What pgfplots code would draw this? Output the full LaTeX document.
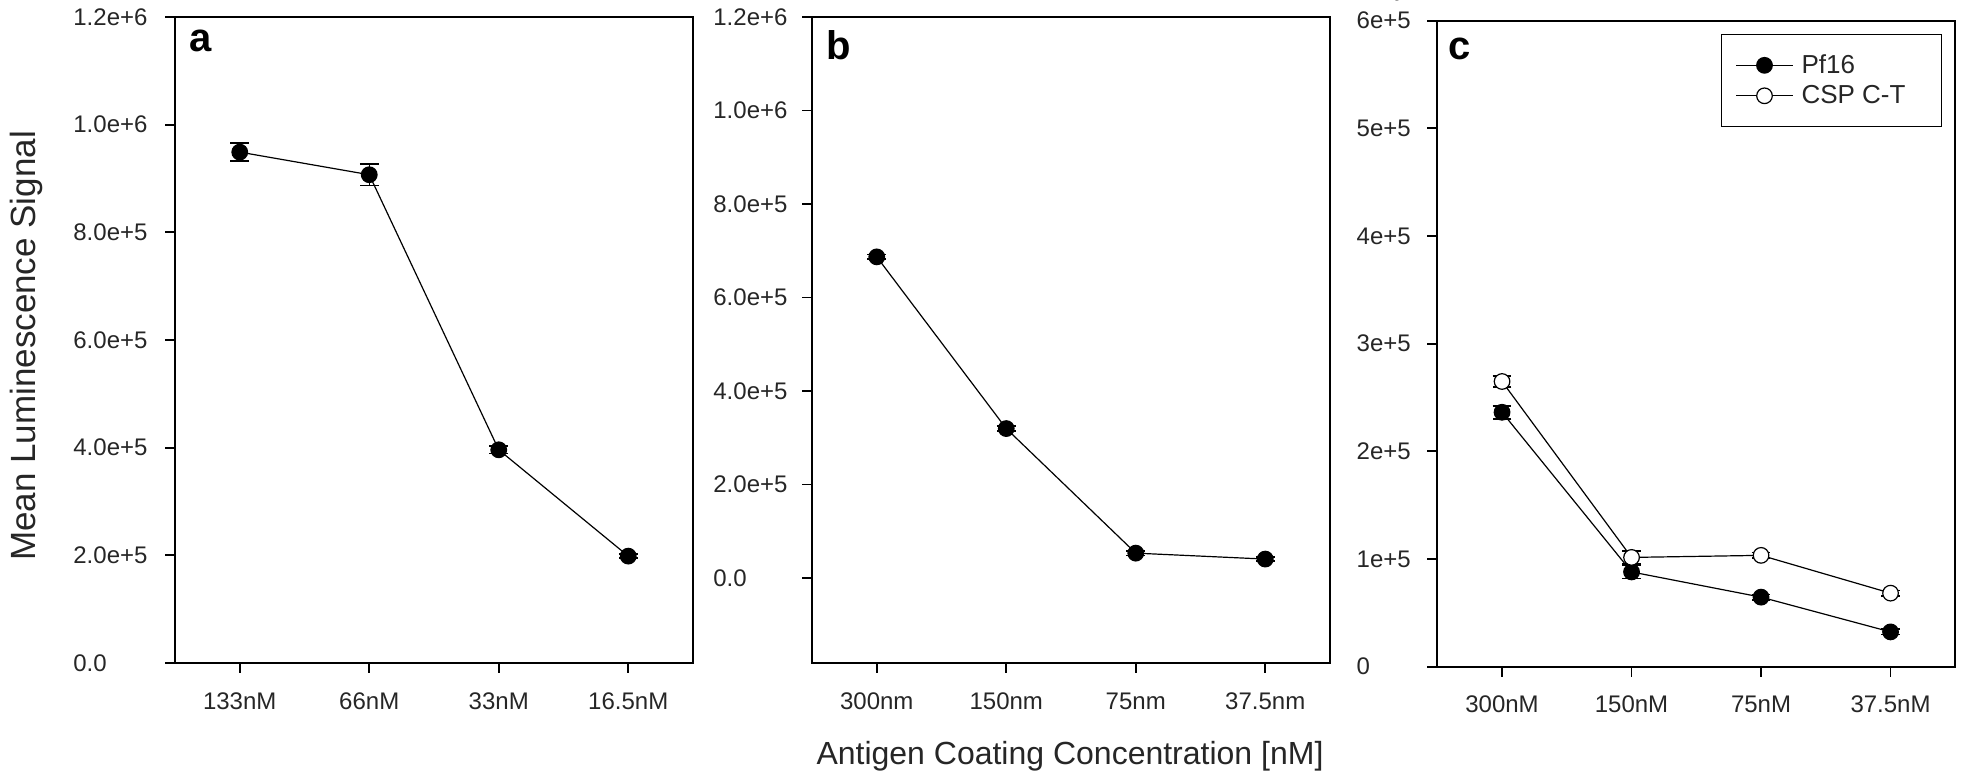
\documentclass[border=0pt]{standalone}
\usepackage{fontspec}
\setmainfont{Liberation Sans}
\usepackage{pgfplots}
\pgfplotsset{compat=1.18}

\pgfplotstableread{
x y e
0 949000 16700
1 907000 20000
2 396000 7000
3 198500 4000
}\dataA
\pgfplotstableread{
x y e
0 686800 5000
1 319500 5000
2 53000 5000
3 40300 4000
}\dataB
\pgfplotstableread{
x y e
0 236300 6000
1 88000 6000
2 64600 2500
3 32300 2500
}\dataPf
\pgfplotstableread{
x y e
0 264900 5000
1 101500 6000
2 103400 2500
3 68300 2500
}\dataCSP

\pgfplotsset{
  panel/.style={
    scale only axis, width=259pt, height=323pt,
    xmin=-0.5, xmax=3.5, xtick={0,1,2,3},
    tick align=outside, xtick pos=bottom, ytick pos=left,
    major tick length=5pt,
    axis line style={line width=0.9pt},
    every tick/.style={line width=0.9pt, black},
    tick label style={font=\fontsize{12}{14}\selectfont, text=black!85},
    xticklabel style={anchor=center, inner sep=0pt, yshift=-14pt},
    yticklabel style={anchor=west, inner sep=0pt},
    error bars/error bar style={line width=0.7pt, black},
    error bars/error mark options={rotate=90, mark size=4.7pt, line width=0.8pt, black},
  },
  ser/.style={black, line width=0.6pt, mark=*, mark size=3.9pt,
    mark options={line width=0.6pt, fill=black},
    error bars/y dir=both, error bars/y explicit},
}

\begin{document}
\begin{tikzpicture}
\useasboundingbox (0,0) rectangle (980.5pt,390pt);

% panel a
\begin{axis}[panel, at={(87.5pt,58.5pt)}, anchor=south west,
  ymin=0, ymax=1200000,
  ytick={0,200000,400000,600000,800000,1000000,1200000},
  yticklabels={0.0,2.0e+5,4.0e+5,6.0e+5,8.0e+5,1.0e+6,1.2e+6},
  yticklabel style={xshift=-46pt},
  xticklabels={133nM,66nM,33nM,16.5nM}]
\addplot[ser] table[x=x, y=y, y error=e] {\dataA};
\node[anchor=north west, inner sep=0pt, font=\fontsize{20}{22}\bfseries\selectfont]
  at ([xshift=7pt,yshift=-6.5pt]rel axis cs:0,1) {a};
\end{axis}

% panel b
\begin{axis}[panel, at={(406pt,58.5pt)}, anchor=south west,
  ymin=-182000, ymax=1200000,
  ytick={0,200000,400000,600000,800000,1000000,1200000},
  yticklabels={0.0,2.0e+5,4.0e+5,6.0e+5,8.0e+5,1.0e+6,1.2e+6},
  yticklabel style={xshift=-44.5pt},
  xticklabels={300nm,150nm,75nm,37.5nm}]
\addplot[ser] table[x=x, y=y, y error=e] {\dataB};
\node[anchor=north west, inner sep=0pt, font=\fontsize{20}{22}\bfseries\selectfont]
  at ([xshift=7pt,yshift=-6.5pt]rel axis cs:0,1) {b};
\end{axis}

% panel c
\begin{axis}[panel, at={(718.65pt,56.65pt)}, anchor=south west,
  ymin=0, ymax=600000,
  ytick={0,100000,200000,300000,400000,500000,600000},
  yticklabels={0,1e+5,2e+5,3e+5,4e+5,5e+5,6e+5},
  yticklabel style={xshift=-35.5pt},
  xticklabels={300nM,150nM,75nM,37.5nM},
  legend style={at={(0.975,0.98)}, anchor=north east, draw=black, line width=0.8pt,
    font=\fontsize{13}{15}\selectfont, inner xsep=7pt, inner ysep=8pt,
    row sep=0.5pt, nodes={inner sep=2pt}, text=black!85},
  legend cell align=left,
  legend image code/.code={\draw[mark repeat=2,mark phase=2,#1] plot coordinates {(0cm,0cm) (0.5cm,0cm) (1cm,0cm)};}]
\addplot[ser] table[x=x, y=y, y error=e] {\dataPf};
\addlegendentry{\hspace*{2pt}Pf16}
\addplot[ser, mark options={fill=white, line width=0.6pt}] table[x=x, y=y, y error=e] {\dataCSP};
\addlegendentry{\hspace*{2pt}CSP C-T\hspace*{9pt}}
\node[anchor=north west, inner sep=0pt, font=\fontsize{20}{22}\bfseries\selectfont]
  at ([xshift=5.5pt,yshift=-8.5pt]rel axis cs:0,1) {c};
\end{axis}

\node[anchor=base, rotate=90, font=\fontsize{17.5}{20}\selectfont, text=black!85]
  at (17.5pt,217pt) {Mean Luminescence Signal};
\node[anchor=base, font=\fontsize{16}{18}\selectfont, text=black!85]
  at (535pt,7.5pt) {Antigen Coating Concentration [nM]};
\end{tikzpicture}
\end{document}
